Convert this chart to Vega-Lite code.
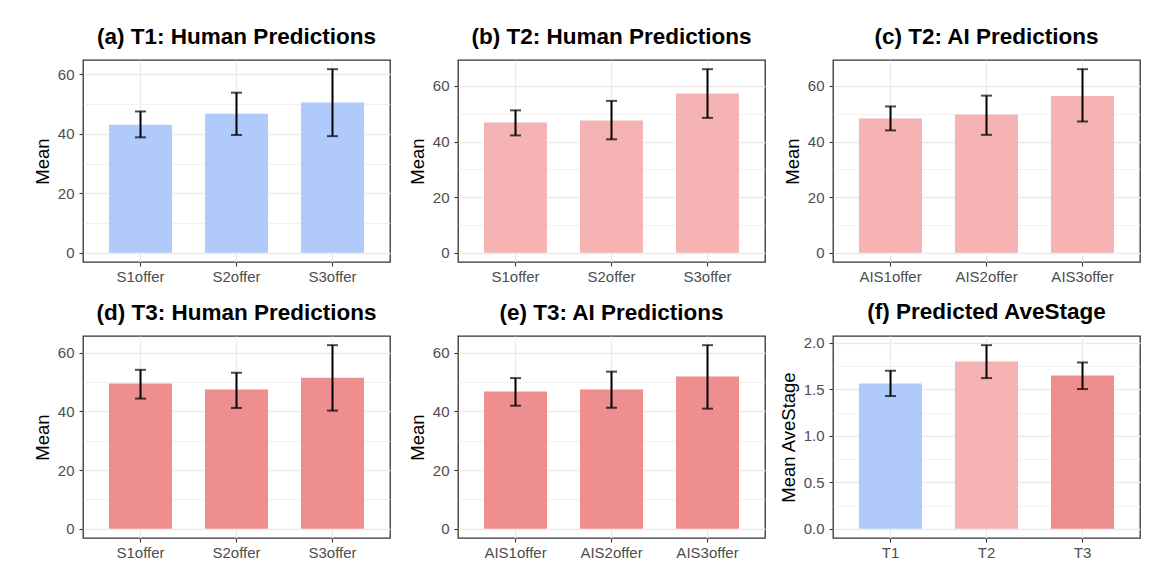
{
  "$schema": "https://vega.github.io/schema/vega-lite/v6.json",
  "padding": {"left": 32, "top": 24, "right": 5, "bottom": 5},
  "background": "white",
  "datasets": {
    "d": [
      {"panel": "a", "cat": "S1offer", "grp": "T1", "mean": 43.0, "lo": 38.8, "hi": 47.5},
      {"panel": "a", "cat": "S2offer", "grp": "T1", "mean": 46.7, "lo": 39.6, "hi": 53.8},
      {"panel": "a", "cat": "S3offer", "grp": "T1", "mean": 50.5, "lo": 39.2, "hi": 61.7},
      {"panel": "b", "cat": "S1offer", "grp": "T2", "mean": 46.8, "lo": 42.2, "hi": 51.2},
      {"panel": "b", "cat": "S2offer", "grp": "T2", "mean": 47.6, "lo": 40.8, "hi": 54.6},
      {"panel": "b", "cat": "S3offer", "grp": "T2", "mean": 57.3, "lo": 48.5, "hi": 66.0},
      {"panel": "c", "cat": "AIS1offer", "grp": "T2", "mean": 48.3, "lo": 44.0, "hi": 52.6},
      {"panel": "c", "cat": "AIS2offer", "grp": "T2", "mean": 49.7, "lo": 42.4, "hi": 56.5},
      {"panel": "c", "cat": "AIS3offer", "grp": "T2", "mean": 56.4, "lo": 47.2, "hi": 66.0},
      {"panel": "d", "cat": "S1offer", "grp": "T3", "mean": 49.5, "lo": 44.4, "hi": 54.2},
      {"panel": "d", "cat": "S2offer", "grp": "T3", "mean": 47.5, "lo": 41.2, "hi": 53.2},
      {"panel": "d", "cat": "S3offer", "grp": "T3", "mean": 51.5, "lo": 40.3, "hi": 62.6},
      {"panel": "e", "cat": "AIS1offer", "grp": "T3", "mean": 46.7, "lo": 41.9, "hi": 51.3},
      {"panel": "e", "cat": "AIS2offer", "grp": "T3", "mean": 47.4, "lo": 41.2, "hi": 53.5},
      {"panel": "e", "cat": "AIS3offer", "grp": "T3", "mean": 51.8, "lo": 40.9, "hi": 62.5},
      {"panel": "f", "cat": "T1", "grp": "T1", "mean": 1.564, "lo": 1.428, "hi": 1.700},
      {"panel": "f", "cat": "T2", "grp": "T2", "mean": 1.800, "lo": 1.621, "hi": 1.975},
      {"panel": "f", "cat": "T3", "grp": "T3", "mean": 1.650, "lo": 1.503, "hi": 1.789}
    ]
  },
  "data": {"name": "d"},
  "columns": 3,
  "bounds": "flush",
  "spacing": {"row": 74, "column": 68},
  "concat": [
    {
      "title": "(a) T1: Human Predictions",
      "width": 307, "height": 202,
      "transform": [{"filter": "datum.panel === 'a'"}],
      "encoding": {"x": {"field": "cat", "type": "nominal", "sort": null, "scale": {"paddingInner": 0.344, "paddingOuter": 0.271}, "axis": {"title": null, "labelAngle": 0, "bandPosition": 0.5, "grid": true}}},
      "layer": [
        {"mark": {"type": "bar"}, "encoding": {
          "y": {"field": "mean", "type": "quantitative", "scale": {"domain": [-3.085, 64.785], "nice": false, "zero": false}, "axis": {"title": "Mean", "values": [0, 10, 20, 30, 40, 50, 60], "labelExpr": "datum.value % 20 === 0 ? datum.label : ''", "tickOpacity": {"condition": {"test": "datum.value % 20 !== 0", "value": 0}, "value": 1}, "gridWidth": {"condition": {"test": "datum.value % 20 !== 0", "value": 0.7}, "value": 1.3}}},
          "y2": {"datum": 0},
          "color": {"field": "grp", "type": "nominal", "scale": {"domain": ["T1", "T2", "T3"], "range": ["#B0CBFB", "#F5B3B3", "#EE8E8E"]}, "legend": null}}},
        {"mark": {"type": "rule", "color": "black", "strokeWidth": 2}, "encoding": {
          "y": {"field": "lo", "type": "quantitative", "scale": {"domain": [-3.085, 64.785], "nice": false, "zero": false}, "axis": {"title": "Mean", "values": [0, 10, 20, 30, 40, 50, 60], "labelExpr": "datum.value % 20 === 0 ? datum.label : ''", "tickOpacity": {"condition": {"test": "datum.value % 20 !== 0", "value": 0}, "value": 1}, "gridWidth": {"condition": {"test": "datum.value % 20 !== 0", "value": 0.7}, "value": 1.3}}},
          "y2": {"field": "hi"}}},
        {"transform": [{"fold": ["lo", "hi"], "as": ["end", "val"]}],
         "mark": {"type": "tick", "color": "black", "thickness": 2, "size": 11},
         "encoding": {
          "y": {"field": "val", "type": "quantitative", "scale": {"domain": [-3.085, 64.785], "nice": false, "zero": false}, "axis": {"title": "Mean", "values": [0, 10, 20, 30, 40, 50, 60], "labelExpr": "datum.value % 20 === 0 ? datum.label : ''", "tickOpacity": {"condition": {"test": "datum.value % 20 !== 0", "value": 0}, "value": 1}, "gridWidth": {"condition": {"test": "datum.value % 20 !== 0", "value": 0.7}, "value": 1.3}}}}}
      ]
    },
    {
      "title": "(b) T2: Human Predictions",
      "width": 307, "height": 202,
      "transform": [{"filter": "datum.panel === 'b'"}],
      "encoding": {"x": {"field": "cat", "type": "nominal", "sort": null, "scale": {"paddingInner": 0.344, "paddingOuter": 0.271}, "axis": {"title": null, "labelAngle": 0, "bandPosition": 0.5, "grid": true}}},
      "layer": [
        {"mark": {"type": "bar"}, "encoding": {
          "y": {"field": "mean", "type": "quantitative", "scale": {"domain": [-3.3, 69.3], "nice": false, "zero": false}, "axis": {"title": "Mean", "values": [0, 10, 20, 30, 40, 50, 60], "labelExpr": "datum.value % 20 === 0 ? datum.label : ''", "tickOpacity": {"condition": {"test": "datum.value % 20 !== 0", "value": 0}, "value": 1}, "gridWidth": {"condition": {"test": "datum.value % 20 !== 0", "value": 0.7}, "value": 1.3}}},
          "y2": {"datum": 0},
          "color": {"field": "grp", "type": "nominal", "scale": {"domain": ["T1", "T2", "T3"], "range": ["#B0CBFB", "#F5B3B3", "#EE8E8E"]}, "legend": null}}},
        {"mark": {"type": "rule", "color": "black", "strokeWidth": 2}, "encoding": {
          "y": {"field": "lo", "type": "quantitative", "scale": {"domain": [-3.3, 69.3], "nice": false, "zero": false}, "axis": {"title": "Mean", "values": [0, 10, 20, 30, 40, 50, 60], "labelExpr": "datum.value % 20 === 0 ? datum.label : ''", "tickOpacity": {"condition": {"test": "datum.value % 20 !== 0", "value": 0}, "value": 1}, "gridWidth": {"condition": {"test": "datum.value % 20 !== 0", "value": 0.7}, "value": 1.3}}},
          "y2": {"field": "hi"}}},
        {"transform": [{"fold": ["lo", "hi"], "as": ["end", "val"]}],
         "mark": {"type": "tick", "color": "black", "thickness": 2, "size": 11},
         "encoding": {
          "y": {"field": "val", "type": "quantitative", "scale": {"domain": [-3.3, 69.3], "nice": false, "zero": false}, "axis": {"title": "Mean", "values": [0, 10, 20, 30, 40, 50, 60], "labelExpr": "datum.value % 20 === 0 ? datum.label : ''", "tickOpacity": {"condition": {"test": "datum.value % 20 !== 0", "value": 0}, "value": 1}, "gridWidth": {"condition": {"test": "datum.value % 20 !== 0", "value": 0.7}, "value": 1.3}}}}}
      ]
    },
    {
      "title": "(c) T2: AI Predictions",
      "width": 307, "height": 202,
      "transform": [{"filter": "datum.panel === 'c'"}],
      "encoding": {"x": {"field": "cat", "type": "nominal", "sort": null, "scale": {"paddingInner": 0.344, "paddingOuter": 0.271}, "axis": {"title": null, "labelAngle": 0, "bandPosition": 0.5, "grid": true}}},
      "layer": [
        {"mark": {"type": "bar"}, "encoding": {
          "y": {"field": "mean", "type": "quantitative", "scale": {"domain": [-3.3, 69.3], "nice": false, "zero": false}, "axis": {"title": "Mean", "values": [0, 10, 20, 30, 40, 50, 60], "labelExpr": "datum.value % 20 === 0 ? datum.label : ''", "tickOpacity": {"condition": {"test": "datum.value % 20 !== 0", "value": 0}, "value": 1}, "gridWidth": {"condition": {"test": "datum.value % 20 !== 0", "value": 0.7}, "value": 1.3}}},
          "y2": {"datum": 0},
          "color": {"field": "grp", "type": "nominal", "scale": {"domain": ["T1", "T2", "T3"], "range": ["#B0CBFB", "#F5B3B3", "#EE8E8E"]}, "legend": null}}},
        {"mark": {"type": "rule", "color": "black", "strokeWidth": 2}, "encoding": {
          "y": {"field": "lo", "type": "quantitative", "scale": {"domain": [-3.3, 69.3], "nice": false, "zero": false}, "axis": {"title": "Mean", "values": [0, 10, 20, 30, 40, 50, 60], "labelExpr": "datum.value % 20 === 0 ? datum.label : ''", "tickOpacity": {"condition": {"test": "datum.value % 20 !== 0", "value": 0}, "value": 1}, "gridWidth": {"condition": {"test": "datum.value % 20 !== 0", "value": 0.7}, "value": 1.3}}},
          "y2": {"field": "hi"}}},
        {"transform": [{"fold": ["lo", "hi"], "as": ["end", "val"]}],
         "mark": {"type": "tick", "color": "black", "thickness": 2, "size": 11},
         "encoding": {
          "y": {"field": "val", "type": "quantitative", "scale": {"domain": [-3.3, 69.3], "nice": false, "zero": false}, "axis": {"title": "Mean", "values": [0, 10, 20, 30, 40, 50, 60], "labelExpr": "datum.value % 20 === 0 ? datum.label : ''", "tickOpacity": {"condition": {"test": "datum.value % 20 !== 0", "value": 0}, "value": 1}, "gridWidth": {"condition": {"test": "datum.value % 20 !== 0", "value": 0.7}, "value": 1.3}}}}}
      ]
    },
    {
      "title": "(d) T3: Human Predictions",
      "width": 307, "height": 202,
      "transform": [{"filter": "datum.panel === 'd'"}],
      "encoding": {"x": {"field": "cat", "type": "nominal", "sort": null, "scale": {"paddingInner": 0.344, "paddingOuter": 0.271}, "axis": {"title": null, "labelAngle": 0, "bandPosition": 0.5, "grid": true}}},
      "layer": [
        {"mark": {"type": "bar"}, "encoding": {
          "y": {"field": "mean", "type": "quantitative", "scale": {"domain": [-3.13, 65.73], "nice": false, "zero": false}, "axis": {"title": "Mean", "values": [0, 10, 20, 30, 40, 50, 60], "labelExpr": "datum.value % 20 === 0 ? datum.label : ''", "tickOpacity": {"condition": {"test": "datum.value % 20 !== 0", "value": 0}, "value": 1}, "gridWidth": {"condition": {"test": "datum.value % 20 !== 0", "value": 0.7}, "value": 1.3}}},
          "y2": {"datum": 0},
          "color": {"field": "grp", "type": "nominal", "scale": {"domain": ["T1", "T2", "T3"], "range": ["#B0CBFB", "#F5B3B3", "#EE8E8E"]}, "legend": null}}},
        {"mark": {"type": "rule", "color": "black", "strokeWidth": 2}, "encoding": {
          "y": {"field": "lo", "type": "quantitative", "scale": {"domain": [-3.13, 65.73], "nice": false, "zero": false}, "axis": {"title": "Mean", "values": [0, 10, 20, 30, 40, 50, 60], "labelExpr": "datum.value % 20 === 0 ? datum.label : ''", "tickOpacity": {"condition": {"test": "datum.value % 20 !== 0", "value": 0}, "value": 1}, "gridWidth": {"condition": {"test": "datum.value % 20 !== 0", "value": 0.7}, "value": 1.3}}},
          "y2": {"field": "hi"}}},
        {"transform": [{"fold": ["lo", "hi"], "as": ["end", "val"]}],
         "mark": {"type": "tick", "color": "black", "thickness": 2, "size": 11},
         "encoding": {
          "y": {"field": "val", "type": "quantitative", "scale": {"domain": [-3.13, 65.73], "nice": false, "zero": false}, "axis": {"title": "Mean", "values": [0, 10, 20, 30, 40, 50, 60], "labelExpr": "datum.value % 20 === 0 ? datum.label : ''", "tickOpacity": {"condition": {"test": "datum.value % 20 !== 0", "value": 0}, "value": 1}, "gridWidth": {"condition": {"test": "datum.value % 20 !== 0", "value": 0.7}, "value": 1.3}}}}}
      ]
    },
    {
      "title": "(e) T3: AI Predictions",
      "width": 307, "height": 202,
      "transform": [{"filter": "datum.panel === 'e'"}],
      "encoding": {"x": {"field": "cat", "type": "nominal", "sort": null, "scale": {"paddingInner": 0.344, "paddingOuter": 0.271}, "axis": {"title": null, "labelAngle": 0, "bandPosition": 0.5, "grid": true}}},
      "layer": [
        {"mark": {"type": "bar"}, "encoding": {
          "y": {"field": "mean", "type": "quantitative", "scale": {"domain": [-3.125, 65.625], "nice": false, "zero": false}, "axis": {"title": "Mean", "values": [0, 10, 20, 30, 40, 50, 60], "labelExpr": "datum.value % 20 === 0 ? datum.label : ''", "tickOpacity": {"condition": {"test": "datum.value % 20 !== 0", "value": 0}, "value": 1}, "gridWidth": {"condition": {"test": "datum.value % 20 !== 0", "value": 0.7}, "value": 1.3}}},
          "y2": {"datum": 0},
          "color": {"field": "grp", "type": "nominal", "scale": {"domain": ["T1", "T2", "T3"], "range": ["#B0CBFB", "#F5B3B3", "#EE8E8E"]}, "legend": null}}},
        {"mark": {"type": "rule", "color": "black", "strokeWidth": 2}, "encoding": {
          "y": {"field": "lo", "type": "quantitative", "scale": {"domain": [-3.125, 65.625], "nice": false, "zero": false}, "axis": {"title": "Mean", "values": [0, 10, 20, 30, 40, 50, 60], "labelExpr": "datum.value % 20 === 0 ? datum.label : ''", "tickOpacity": {"condition": {"test": "datum.value % 20 !== 0", "value": 0}, "value": 1}, "gridWidth": {"condition": {"test": "datum.value % 20 !== 0", "value": 0.7}, "value": 1.3}}},
          "y2": {"field": "hi"}}},
        {"transform": [{"fold": ["lo", "hi"], "as": ["end", "val"]}],
         "mark": {"type": "tick", "color": "black", "thickness": 2, "size": 11},
         "encoding": {
          "y": {"field": "val", "type": "quantitative", "scale": {"domain": [-3.125, 65.625], "nice": false, "zero": false}, "axis": {"title": "Mean", "values": [0, 10, 20, 30, 40, 50, 60], "labelExpr": "datum.value % 20 === 0 ? datum.label : ''", "tickOpacity": {"condition": {"test": "datum.value % 20 !== 0", "value": 0}, "value": 1}, "gridWidth": {"condition": {"test": "datum.value % 20 !== 0", "value": 0.7}, "value": 1.3}}}}}
      ]
    },
    {
      "title": "(f) Predicted AveStage",
      "width": 307, "height": 202,
      "transform": [{"filter": "datum.panel === 'f'"}],
      "encoding": {"x": {"field": "cat", "type": "nominal", "sort": null, "scale": {"paddingInner": 0.344, "paddingOuter": 0.271}, "axis": {"title": null, "labelAngle": 0, "bandPosition": 0.5, "grid": true}}},
      "layer": [
        {"mark": {"type": "bar"}, "encoding": {
          "y": {"field": "mean", "type": "quantitative", "scale": {"domain": [-0.09875, 2.07375], "nice": false, "zero": false}, "axis": {"title": "Mean AveStage", "format": ".1f", "values": [0, 0.25, 0.5, 0.75, 1, 1.25, 1.5, 1.75, 2], "labelExpr": "datum.value % 0.5 === 0 ? datum.label : ''", "tickOpacity": {"condition": {"test": "datum.value % 0.5 !== 0", "value": 0}, "value": 1}, "gridWidth": {"condition": {"test": "datum.value % 0.5 !== 0", "value": 0.7}, "value": 1.3}}},
          "y2": {"datum": 0},
          "color": {"field": "grp", "type": "nominal", "scale": {"domain": ["T1", "T2", "T3"], "range": ["#B0CBFB", "#F5B3B3", "#EE8E8E"]}, "legend": null}}},
        {"mark": {"type": "rule", "color": "black", "strokeWidth": 2}, "encoding": {
          "y": {"field": "lo", "type": "quantitative", "scale": {"domain": [-0.09875, 2.07375], "nice": false, "zero": false}, "axis": {"title": "Mean AveStage", "format": ".1f", "values": [0, 0.25, 0.5, 0.75, 1, 1.25, 1.5, 1.75, 2], "labelExpr": "datum.value % 0.5 === 0 ? datum.label : ''", "tickOpacity": {"condition": {"test": "datum.value % 0.5 !== 0", "value": 0}, "value": 1}, "gridWidth": {"condition": {"test": "datum.value % 0.5 !== 0", "value": 0.7}, "value": 1.3}}},
          "y2": {"field": "hi"}}},
        {"transform": [{"fold": ["lo", "hi"], "as": ["end", "val"]}],
         "mark": {"type": "tick", "color": "black", "thickness": 2, "size": 11},
         "encoding": {
          "y": {"field": "val", "type": "quantitative", "scale": {"domain": [-0.09875, 2.07375], "nice": false, "zero": false}, "axis": {"title": "Mean AveStage", "format": ".1f", "values": [0, 0.25, 0.5, 0.75, 1, 1.25, 1.5, 1.75, 2], "labelExpr": "datum.value % 0.5 === 0 ? datum.label : ''", "tickOpacity": {"condition": {"test": "datum.value % 0.5 !== 0", "value": 0}, "value": 1}, "gridWidth": {"condition": {"test": "datum.value % 0.5 !== 0", "value": 0.7}, "value": 1.3}}}}}
      ]
    }
  ],
  "config": {
    "font": "Liberation Sans",
    "view": {"stroke": "#333333", "strokeWidth": 1.3},
    "axis": {
      "domain": false,
      "tickColor": "#333333",
      "tickSize": 4,
      "tickWidth": 1.1,
      "labelColor": "#4D4D4D",
      "labelFont": "Liberation Sans",
      "labelFontSize": 15,
      "titleFont": "Liberation Sans",
      "titleFontSize": 18.5,
      "titleFontWeight": "normal",
      "titleColor": "#000000",
      "gridColor": "#EBEBEB"
    },
    "axisX": {"labelPadding": 3, "gridWidth": 1.3},
    "axisY": {"labelPadding": 5, "titlePadding": 5},
    "title": {"font": "Liberation Sans", "fontSize": 22.5, "fontWeight": "bold", "color": "#000000", "frame": "group", "anchor": "middle", "offset": 12}
  }
}
